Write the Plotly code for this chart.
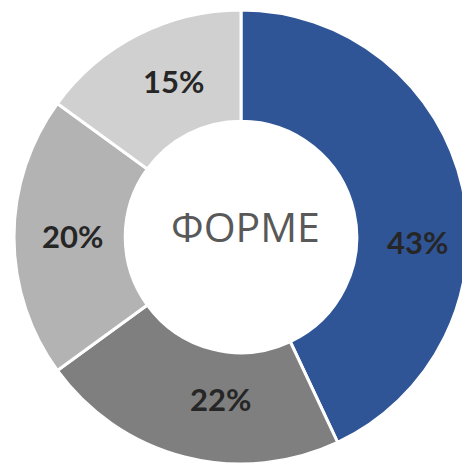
import plotly.graph_objects as go

labels = ["A", "B", "C", "D"]
values = [43, 22, 20, 15]
texts = ["43%", "22%", "20%", "15%"]
colors = ["#2F5597", "#7F7F7F", "#B3B3B3", "#D0D0D0"]
center_label = "ФОРМЕ"

# label anchor positions in pixels (layout only)
label_px = [(417, 242), (220, 399), (72, 236), (173, 81)]

W, H = 482, 474
fig = go.Figure(go.Pie(
    labels=labels, values=values, textinfo="none",
    sort=False, direction="clockwise", rotation=0, hole=0.51,
    marker=dict(colors=colors, line=dict(color="white", width=3)),
    domain=dict(x=[14 / W, 468 / W], y=[10 / H, 464 / H]),
    showlegend=False, hoverinfo="skip",
))
for t, (px, py) in zip(texts, label_px):
    fig.add_annotation(text=t, x=px / W, y=1 - py / H, xref="paper", yref="paper",
                       xanchor="center", yanchor="middle", showarrow=False,
                       font=dict(family="Lato", size=31, color="#262626", weight="bold"))
fig.add_annotation(text=center_label, x=245 / W, y=1 - 226 / H, xref="paper", yref="paper",
                   xanchor="center", yanchor="middle", showarrow=False,
                   font=dict(family="Open Sans", size=41, color="#595959"))
fig.update_layout(width=W, height=H, margin=dict(l=0, r=0, t=0, b=0),
                  paper_bgcolor="white", plot_bgcolor="white")
fig.write_html("out.html", config={"displayModeBar": False},
               post_script="document.body.style.margin='0';document.body.style.overflow='hidden';document.documentElement.style.overflow='hidden';")
